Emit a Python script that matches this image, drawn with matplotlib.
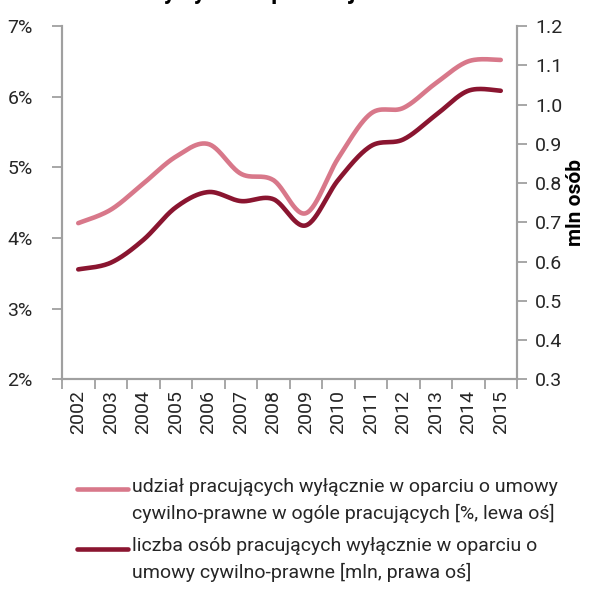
import numpy as np
import matplotlib
matplotlib.use("Agg")
import matplotlib.pyplot as plt
from matplotlib.lines import Line2D

plt.rcParams['font.family'] = ['Roboto', 'DejaVu Sans']

years = ['2002', '2003', '2004', '2005', '2006', '2007', '2008',
         '2009', '2010', '2011', '2012', '2013', '2014', '2015']
share_pct = [4.21, 4.40, 4.77, 5.15, 5.33, 4.91, 4.82,
             4.35, 5.13, 5.76, 5.84, 6.19, 6.50, 6.52]
people_mln = [0.58, 0.597, 0.655, 0.738, 0.777, 0.754, 0.759,
              0.692, 0.808, 0.894, 0.911, 0.973, 1.035, 1.035]

label_share = "udział pracujących wyłącznie w oparciu o umowy\ncywilno-prawne w ogóle pracujących [%, lewa oś]"
label_people = "liczba osób pracujących wyłącznie w oparciu o\numowy cywilno-prawne [mln, prawa oś]"

pink = '#D8788A'
dark = '#8A1530'
grey = '#A0A0A0'
txt = '#262626'


def smooth(xs, ys, n=30):
    # excel-like smoothed line (catmull-rom as bezier)
    xs = np.asarray(xs, float)
    ys = np.asarray(ys, float)
    px = np.concatenate([[xs[0]], xs, [xs[-1]]])
    py = np.concatenate([[ys[0]], ys, [ys[-1]]])
    ox, oy = [], []
    t = np.linspace(0, 1, n)
    for i in range(1, len(px) - 2):
        x0, x1, x2, x3 = px[i - 1], px[i], px[i + 1], px[i + 2]
        y0, y1, y2, y3 = py[i - 1], py[i], py[i + 1], py[i + 2]
        c1x, c1y = x1 + (x2 - x0) / 6, y1 + (y2 - y0) / 6
        c2x, c2y = x2 - (x3 - x1) / 6, y2 - (y3 - y1) / 6
        bx = (1-t)**3*x1 + 3*(1-t)**2*t*c1x + 3*(1-t)*t**2*c2x + t**3*x2
        by = (1-t)**3*y1 + 3*(1-t)**2*t*c1y + 3*(1-t)*t**2*c2y + t**3*y2
        ox.extend(bx)
        oy.extend(by)
    return np.array(ox), np.array(oy)


fig = plt.figure(figsize=(6.06, 5.91), dpi=100)
ax = fig.add_axes([62/606, 1 - 379.3/591, (517 - 62)/606, (379.3 - 26)/591])
ax2 = ax.twinx()

x = np.arange(len(years))
sx, sy = smooth(x, share_pct)
ax.plot(sx, sy, color=pink, lw=3.3, solid_capstyle='round')
sx2, sy2 = smooth(x, people_mln)
ax2.plot(sx2, sy2, color=dark, lw=3.3, solid_capstyle='round')

ax.set_xlim(-0.5, len(years) - 0.5)
ax.set_ylim(2, 7)
ax2.set_ylim(0.3, 1.2)

ax.set_yticks(range(2, 8))
ax.set_yticklabels([f"{v}%" for v in range(2, 8)])
ax2.set_yticks(np.round(np.arange(0.3, 1.21, 0.1), 1))
ax2.set_yticklabels([f"{v:.1f}" for v in np.arange(0.3, 1.21, 0.1)])

# year labels centred, ticks on the boundaries
ax.set_xticks(np.arange(-0.5, len(years), 1.0))
ax.set_xticklabels([])
ax.set_xticks(x, minor=True)
ax.set_xticklabels(years, minor=True, rotation=90, fontsize=14, color=txt)
ax.tick_params(axis='x', which='minor', length=0, pad=8)
ax.tick_params(axis='x', which='major', length=7, width=1.3, color=grey, direction='out')

ax.tick_params(axis='y', length=7, width=1.3, color=grey, labelsize=14,
               labelcolor=txt, pad=14)
ax2.tick_params(axis='y', length=7, width=1.3, color=grey, labelsize=14,
                labelcolor=txt, pad=6)

for a in (ax, ax2):
    a.spines['top'].set_visible(False)
    for s in ('left', 'right', 'bottom'):
        a.spines[s].set_color(grey)
        a.spines[s].set_linewidth(1.5)

ax2.set_ylabel("mln osób", fontsize=15, fontweight='bold', color='black', labelpad=3)

# title, cut off at the top edge like in the source
fig.text(0.0, 1 + 1/591, "w formie umowy cywilno-prawnej", fontsize=17,
         fontweight='bold', va='baseline', ha='left', color='black')

# legend drawn by hand
fig.add_artist(Line2D([77/606, 128/606], [1 - 489/591, 1 - 489/591],
                      color=pink, lw=3.3, solid_capstyle='round'))
fig.add_artist(Line2D([77/606, 128/606], [1 - 549/591, 1 - 549/591],
                      color=dark, lw=3.3, solid_capstyle='round'))
fig.text(132/606, 1 - 478/591, label_share, fontsize=14, color=txt,
         va='top', ha='left', linespacing=1.5)
fig.text(132/606, 1 - 537/591, label_people, fontsize=14, color=txt,
         va='top', ha='left', linespacing=1.5)

fig.savefig("out.png", dpi=100)
